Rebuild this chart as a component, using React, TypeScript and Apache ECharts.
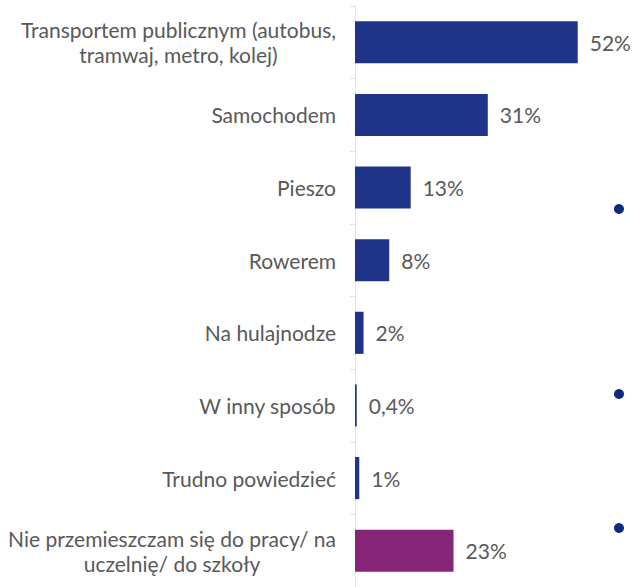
import React, { useEffect, useRef } from "react";
import * as echarts from "echarts";

const categories = [
  "Transportem publicznym (autobus,\ntramwaj, metro, kolej)",
  "Samochodem",
  "Pieszo",
  "Rowerem",
  "Na hulajnodze",
  "W inny sposób",
  "Trudno powiedzieć",
  "Nie przemieszczam się do pracy/ na\nuczelnię/ do szkoły",
];
const values = [52, 31, 13, 8, 2, 0.4, 1, 23];
const barColors = ["#1F3488", "#1F3488", "#1F3488", "#1F3488", "#1F3488", "#1F3488", "#1F3488", "#862477"];

export default function App() {
  const ref = useRef<HTMLDivElement>(null);
  useEffect(() => {
    if (!ref.current) return;
    const chart = echarts.init(ref.current, null, { renderer: "svg" });
    const font = "Lato";
    chart.setOption({
      animation: false,
      grid: { left: 355, top: 6, height: 592, right: 22, containLabel: false },
      xAxis: {
        type: "value",
        min: 0,
        max: 60,
        show: false,
      },
      yAxis: {
        type: "category",
        inverse: true,
        data: categories,
        axisLine: { show: true, lineStyle: { color: "#e3e3e3", width: 1 } },
        axisTick: { show: true, length: 5, lineStyle: { color: "#e3e3e3" } },
        axisLabel: {
          margin: 19,
          formatter: (v: string) =>
            v
              .split("\n")
              .map((l) => `{c|${l}}`)
              .join("\n"),
          rich: {
            c: {
              align: "center",
              fontFamily: font,
              fontSize: 21,
              color: "#595959",
              lineHeight: 25,
            },
          },
        },
      },
      series: [
        {
          type: "bar",
          data: values.map((v, i) => ({ value: v, itemStyle: { color: barColors[i] } })),
          barCategoryGap: "42%",
          label: {
            show: true,
            position: "right",
            distance: 12,
            fontFamily: font,
            fontSize: 21,
            color: "#595959",
            formatter: (p: any) => String(p.value).replace(".", ",") + "%",
          },
        },
      ],
      graphic: [
        { type: "circle", shape: { cx: 619, cy: 209, r: 5 }, style: { fill: "#0D2A7F" } },
        { type: "circle", shape: { cx: 619, cy: 394, r: 5 }, style: { fill: "#0D2A7F" } },
        { type: "circle", shape: { cx: 619, cy: 528, r: 5 }, style: { fill: "#0D2A7F" } },
      ],
    });
    return () => chart.dispose();
  }, []);
  return <div ref={ref} style={{ width: 634, height: 587, position: "absolute", left: 0, top: 0 }} />;
}
